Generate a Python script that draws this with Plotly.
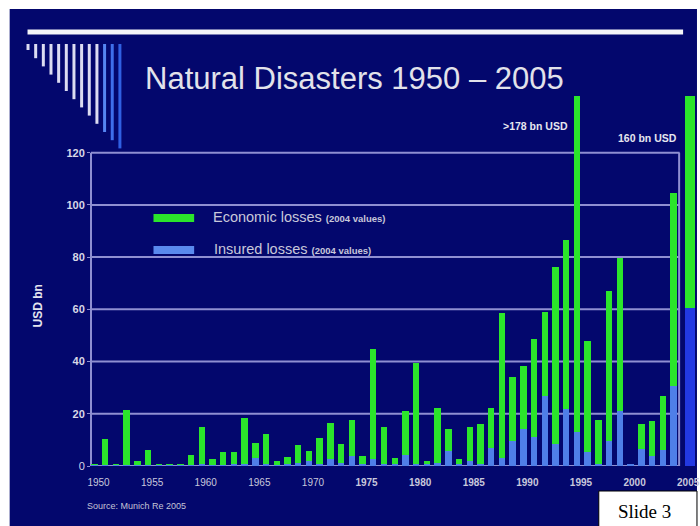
import plotly.graph_objects as go

# ---- data (USD bn, 2004 values) ----
years = list(range(1950, 2006))

economic_losses = [
    0.4, 10.5, 0.5, 21.6, 2.1, 6.3, 0.5, 0.5, 0.5, 4.3,        # 1950-1959
    14.8, 2.7, 5.4, 5.4, 18.2, 9.0, 12.3, 1.8, 3.5, 8.2,       # 1960-1969
    5.7, 10.8, 16.5, 8.6, 17.5, 4.0, 44.8, 15.0, 2.9, 21.2,    # 1970-1979
    39.5, 1.8, 22.2, 14.2, 2.5, 15.0, 15.9, 22.2, 58.6, 34.1,  # 1980-1989
    38.4, 48.8, 59.0, 76.4, 86.4, 178.0, 48.0, 17.5, 66.9, 79.6,  # 1990-1999
    0.8, 15.9, 17.1, 27.0, 104.5, 160.0,                       # 2000-2005
]

insured_losses = [
    0.1, 0.2, 0.1, 0.3, 0.1, 0.2, 0.1, 0.1, 0.1, 0.2,
    0.4, 0.2, 0.3, 0.5, 0.6, 3.0, 0.6, 0.3, 0.5, 1.2,
    1.8, 0.9, 2.5, 1.0, 3.8, 0.8, 2.5, 0.8, 0.8, 4.4,
    0.5, 0.5, 1.2, 5.9, 0.8, 1.8, 0.6, 7.0, 3.1, 9.5,
    14.0, 11.0, 27.0, 8.6, 21.9, 13.2, 5.4, 0.8, 9.5, 21.0,
    0.4, 6.6, 3.8, 6.0, 30.5, 60.5,
]

y_ticks = [0, 20, 40, 60, 80, 100, 120]
x_ticks = [1950, 1955, 1960, 1965, 1970, 1975, 1980, 1985, 1990, 1995, 2000, 2005]

# ---- styling ----
NAVY = "#03076d"
GRID = "#8f8fd2"
GREEN = "#2be52b"
BLUE = "#4f7fe8"
BLUE_2005 = "#2238e2"

FIG_W, FIG_H = 700, 526
L, T, R, B = 91, 96, 0, 60
PW, PH = FIG_W - L - R, FIG_H - T - B


def fx(p):
    """pixel x -> paper x"""
    return (p - L) / PW


def fy(p):
    """pixel y (from top) -> paper y"""
    return (T + PH - p) / PH


BORDER_X = 2004.53  # right frame of the chart

# bar geometry: narrow bars, the last one is a wider block on the edge
widths = [0.6] * len(years)
offsets = [-0.3] * len(years)
widths[-1] = 1.2
offsets[-1] = 0.1

green_colors = [GREEN] * len(years)
blue_colors = [BLUE] * len(years)
blue_colors[-1] = BLUE_2005

fig = go.Figure()
fig.add_bar(x=years, y=economic_losses, width=widths, offset=offsets,
            marker=dict(color=green_colors, line=dict(width=0)),
            name="Economic losses", hoverinfo="x+y")
fig.add_bar(x=years, y=insured_losses, width=widths, offset=offsets,
            marker=dict(color=blue_colors, line=dict(width=0)),
            name="Insured losses", hoverinfo="x+y")

shapes = []
# slide background (white margin around it)
shapes.append(dict(type="rect", xref="paper", yref="paper",
                   x0=fx(9), x1=fx(702), y0=fy(9), y1=fy(528),
                   fillcolor=NAVY, line=dict(width=0), layer="below"))
# horizontal grid lines, stopping at the right frame
for v in y_ticks:
    shapes.append(dict(type="line", xref="paper", yref="y",
                       x0=0, x1=fx(684.5), y0=v, y1=v,
                       line=dict(color=GRID, width=2), layer="below"))
# left axis line and right frame
shapes.append(dict(type="line", xref="paper", yref="y", x0=0, x1=0,
                   y0=0, y1=120, line=dict(color=GRID, width=2), layer="below"))
shapes.append(dict(type="line", xref="x", yref="y", x0=BORDER_X, x1=BORDER_X,
                   y0=0, y1=120, line=dict(color=GRID, width=2), layer="below"))
# white rule under the header
shapes.append(dict(type="line", xref="paper", yref="paper",
                   x0=fx(27), x1=fx(688), y0=fy(32), y1=fy(32),
                   line=dict(color="#f4f4f8", width=5), layer="below"))
# decorative header stripes
stripe_colors = ["#dcdcf2"] * 10 + ["#5585f2", "#3f6fea", "#3060e2"]
for i, c in enumerate(stripe_colors):
    xp = 27.5 + 7.72 * i
    shapes.append(dict(type="line", xref="paper", yref="paper",
                       x0=fx(xp), x1=fx(xp), y0=fy(44), y1=fy(50 + 8.2 * i),
                       line=dict(color=c, width=3), layer="below"))
# legend swatches
shapes.append(dict(type="rect", xref="paper", yref="paper",
                   x0=fx(154), x1=fx(195), y0=fy(214), y1=fy(222),
                   fillcolor=GREEN, line=dict(width=0)))
shapes.append(dict(type="rect", xref="paper", yref="paper",
                   x0=fx(154), x1=fx(195), y0=fy(246), y1=fy(254),
                   fillcolor="#5a8aee", line=dict(width=0)))
# slide number box
shapes.append(dict(type="rect", xref="paper", yref="paper",
                   x0=fx(603), x1=fx(702), y0=fy(491), y1=fy(528),
                   fillcolor="white", line=dict(color="black", width=1)))

SANS = "Liberation Sans, Arial, sans-serif"
annotations = [
    dict(x=fx(357), y=fy(78), text="Natural Disasters 1950 – 2005",
         font=dict(family=SANS, size=31, color="#e2e2ea")),
    dict(x=fx(38), y=fy(306), text="<b>USD bn</b>", textangle=-90,
         font=dict(family=SANS, size=12, color="#e4e4ee")),
    dict(x=fx(212), y=fy(217), xanchor="left",
         text="Economic losses <b><span style='font-size:9.5px'>(2004 values)</span></b>",
         font=dict(family=SANS, size=14.5, color="#c8c8da")),
    dict(x=fx(213), y=fy(249), xanchor="left",
         text="Insured losses <b><span style='font-size:9.5px'>(2004 values)</span></b>",
         font=dict(family=SANS, size=14.5, color="#c8c8da")),
    dict(x=fx(539), y=fy(126), text="<b>&gt;178 bn USD</b>",
         font=dict(family=SANS, size=10.5, color="#e6e6f0")),
    dict(x=fx(652), y=fy(138), text="<b>160 bn USD</b>",
         font=dict(family=SANS, size=10.5, color="#e6e6f0")),
    dict(x=fx(85), y=fy(506), xanchor="left", text="Source: Munich Re 2005",
         font=dict(family=SANS, size=9, color="#c4c4d6")),
    dict(x=fx(649), y=fy(511), text="Slide 3",
         font=dict(family="Liberation Serif, Times New Roman, serif", size=19,
                   color="black")),
]
for a in annotations:
    a.setdefault("xref", "paper")
    a.setdefault("yref", "paper")
    a.setdefault("xanchor", "center")
    a.setdefault("yanchor", "middle")
    a.setdefault("showarrow", False)

x_text = [(f"<b>{y}</b>" if y >= 1975 else str(y)) for y in x_ticks]

fig.update_layout(
    width=FIG_W, height=FIG_H,
    margin=dict(l=L, r=R, t=T, b=B, pad=0),
    paper_bgcolor="white",
    plot_bgcolor=NAVY,
    barmode="overlay",
    bargap=0,
    showlegend=False,
    shapes=shapes,
    annotations=annotations,
    xaxis=dict(range=[1949.67, 2006.01], tickvals=x_ticks, ticktext=x_text,
               showgrid=False, zeroline=False, showline=False,
               ticks="outside", ticklen=7, tickcolor="rgba(0,0,0,0)",
               ticklabelshift=4, ticklabeloverflow="allow",
               tickfont=dict(family=SANS, size=10, color="#c8c8dc")),
    yaxis=dict(range=[0, 141.7], tickvals=y_ticks,
               ticktext=[str(v) if v == 0 else f"<b>{v}</b>" for v in y_ticks],
               showgrid=False, zeroline=False, showline=False,
               ticks="outside", ticklen=3, tickcolor=GRID,
               tickfont=dict(family=SANS, size=11, color="#d8d8e6")),
)

fig.write_html("out.html")
